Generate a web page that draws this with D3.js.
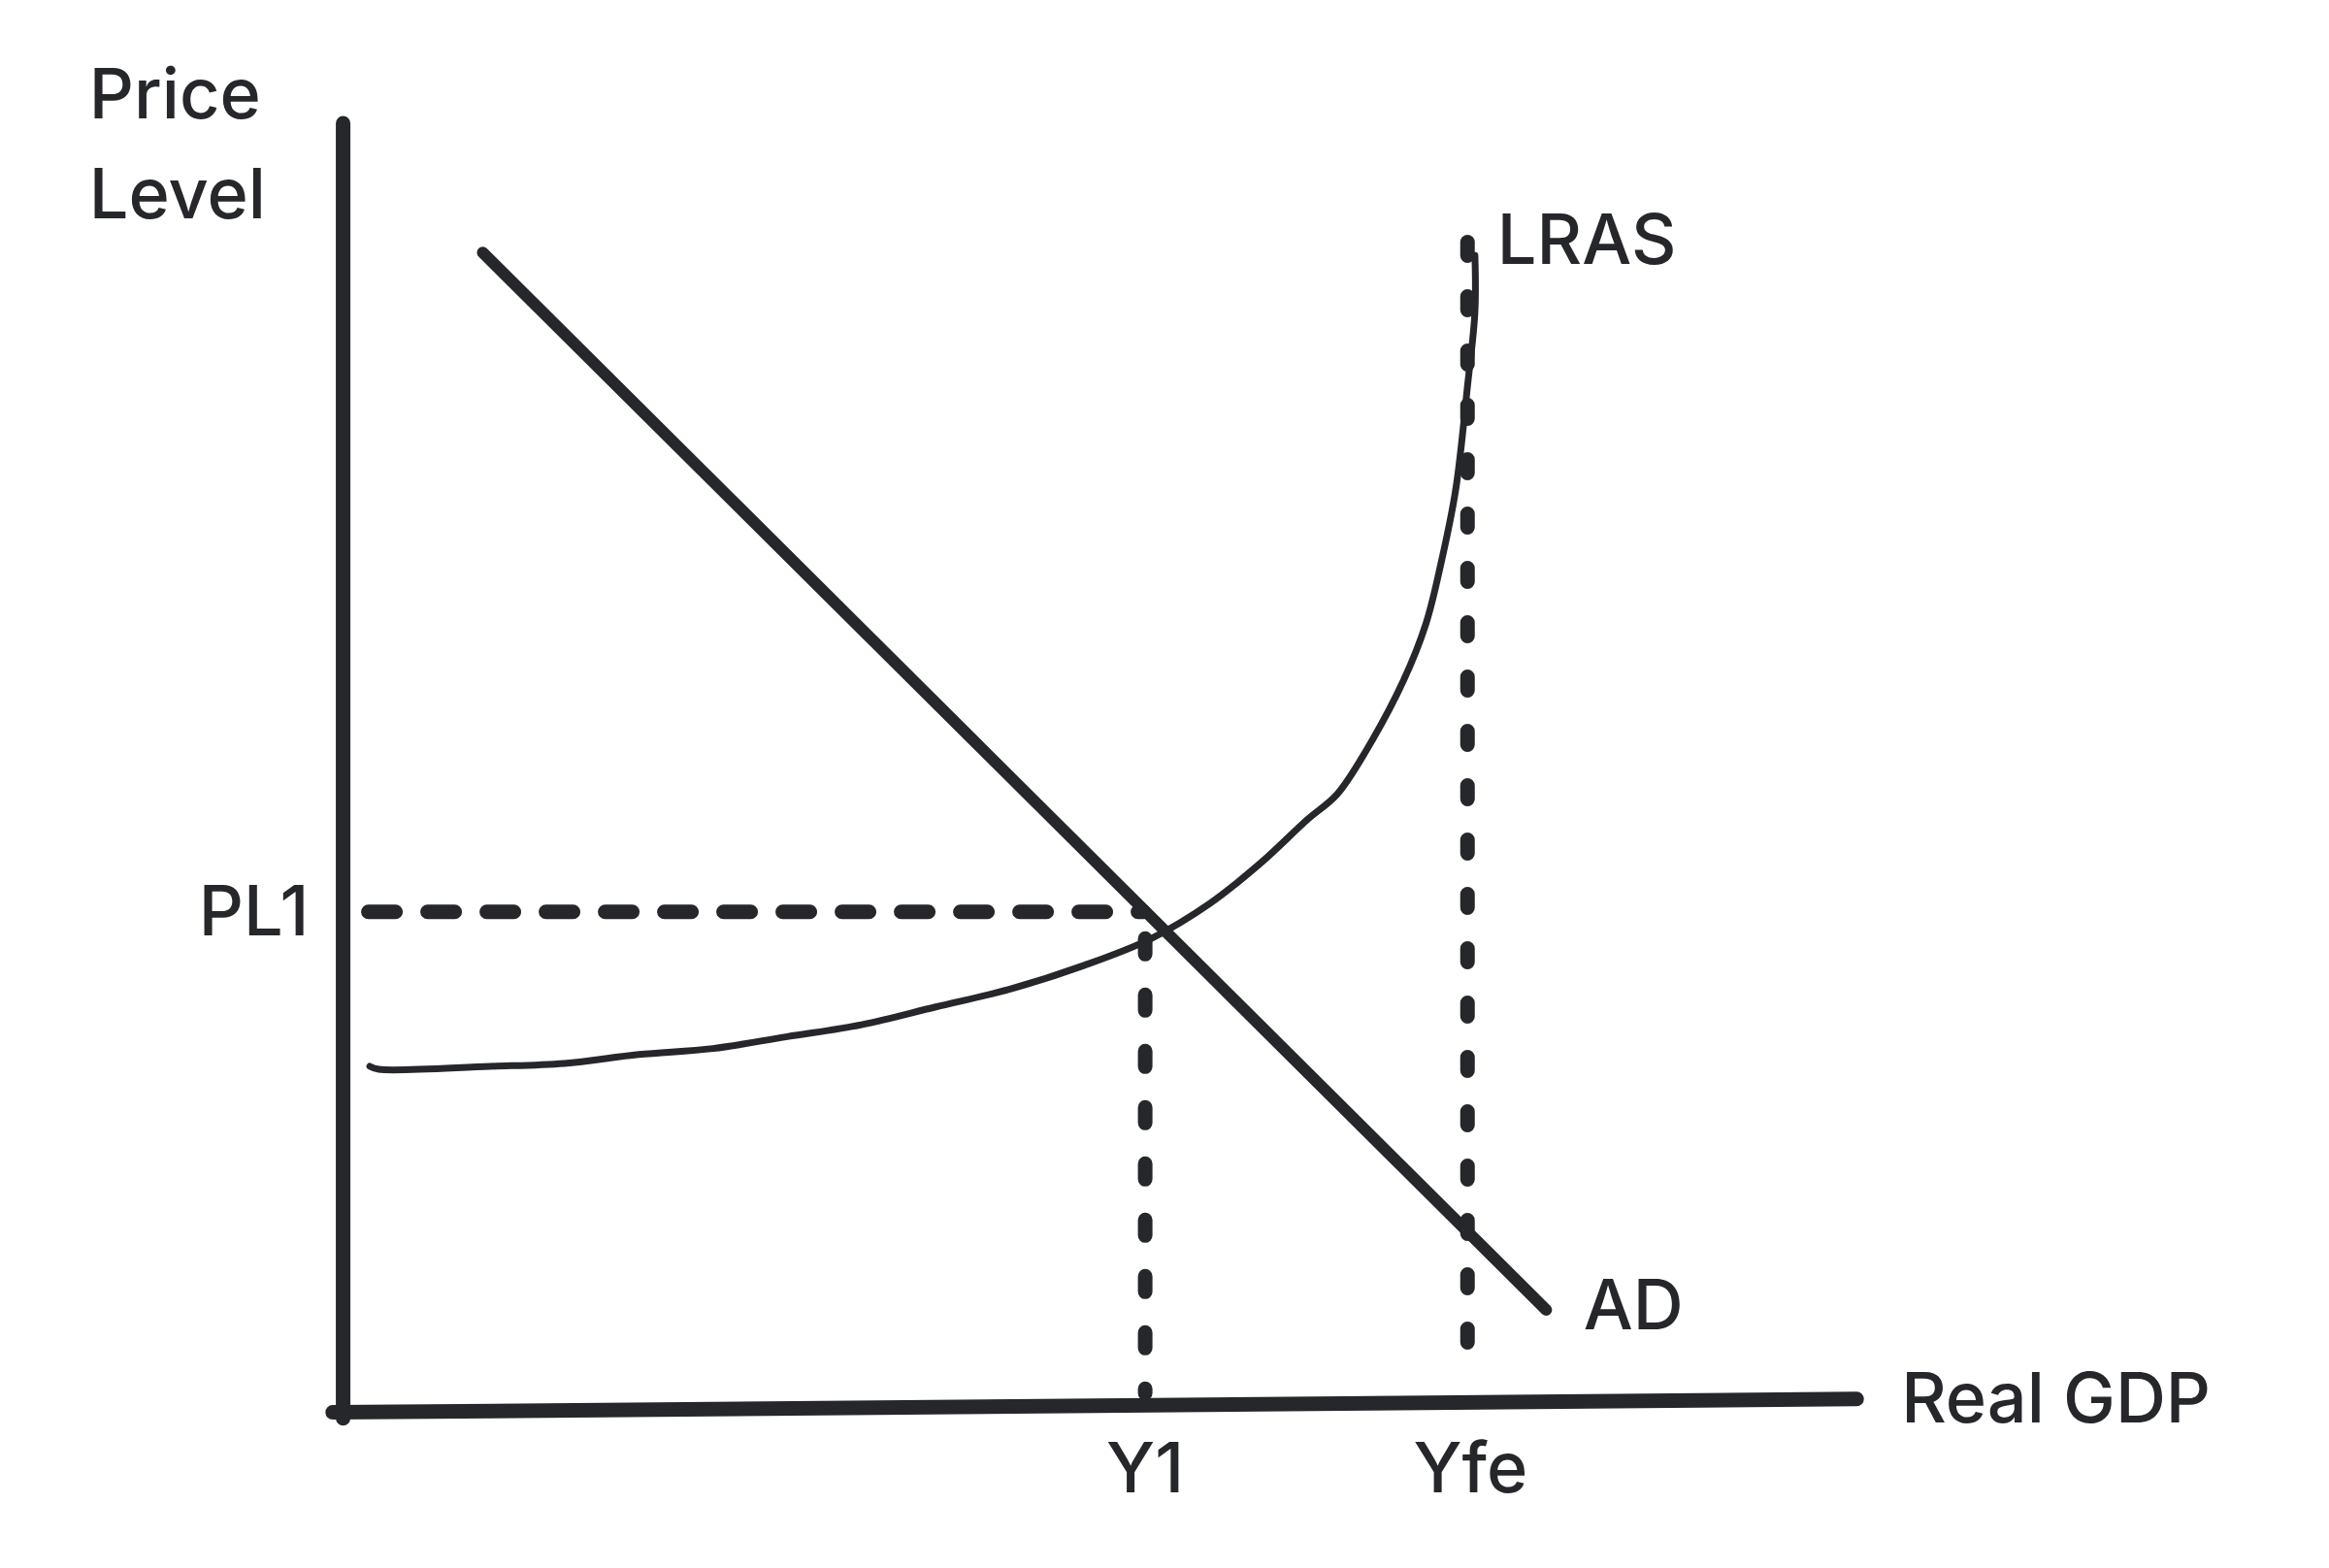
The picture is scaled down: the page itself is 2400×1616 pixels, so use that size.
<!DOCTYPE html>
<html><head><meta charset="utf-8">
<script src="https://cdn.jsdelivr.net/npm/d3@7"></script>
<style>body{margin:0;background:#fff}svg{display:block}text{font-family:Inter,"Noto Sans",sans-serif;fill:#25272b;font-weight:500}</style>
</head><body>
<script>
// data coordinates: x = quantity units, y = price units (origin at axes intersection)
const yAxisLine = [[0,-4],[0,868]];
const xAxisLine = [[-7,0],[1019,9]];
const adCurve = [[94,781],[810,69]];
const srasCurve = [[18,233],[24,231],[99,233],[149,235],[199,241],[249,245],[299,253],[349,261],[399,273],[449,285],[499,301],[544,319],[584,343],[619,371],[649,399],[669,416],[689,446],[714,493],[729,531],[739,571],[749,621],[757,691],[762,741],[762,779]];
const lrasLine = [[757,788],[757,33]];
const pl1Line = [[17,337],[539,337]];
const y1Line = [[540,319],[540,13]];
const labels = [
  {t:"Price",x:-171,y:871,a:"start"},{t:"Level",x:-171,y:804,a:"start"},
  {t:"LRAS",x:777,y:773,a:"start"},{t:"AD",x:835,y:56,a:"start"},
  {t:"Real GDP",x:1049,y:-7,a:"start"},{t:"Y1",x:540,y:-54,a:"middle"},
  {t:"Yfe",x:759,y:-54,a:"middle"},{t:"PL1",x:-23,y:321,a:"end"}
];
const s = 2400/1568;
const W=2400,H=1616;
const x = d3.scaleLinear([0,1000],[231*s,1231*s]);
const y = d3.scaleLinear([0,1000],[951*s,-49*s]);
const svg = d3.select("body").append("svg").attr("width",W).attr("height",H);
const line = d3.line().x(d=>x(d[0])).y(d=>y(d[1]));
const col="#25272b";
function draw(pts,w,dash,curve){
  svg.append("path").attr("d",line.curve(curve||d3.curveLinear)(pts)).attr("fill","none")
   .attr("stroke",col).attr("stroke-width",w).attr("stroke-linecap","round").attr("stroke-linejoin","round")
   .attr("stroke-dasharray",dash||null);
}
draw(yAxisLine,15);
draw(xAxisLine,15);
draw(adCurve,12);
draw(srasCurve,7,null,d3.curveCatmullRom);
draw(lrasLine,15,"14 42");
draw(pl1Line,15,"28 33");
draw(y1Line,15,"16 42");
svg.selectAll("text.l").data(labels).join("text").attr("class","l")
  .attr("x",d=>x(d.x)).attr("y",d=>y(d.y)).attr("text-anchor",d=>d.a)
  .attr("font-size",72).text(d=>d.t);
</script>
</body></html>
